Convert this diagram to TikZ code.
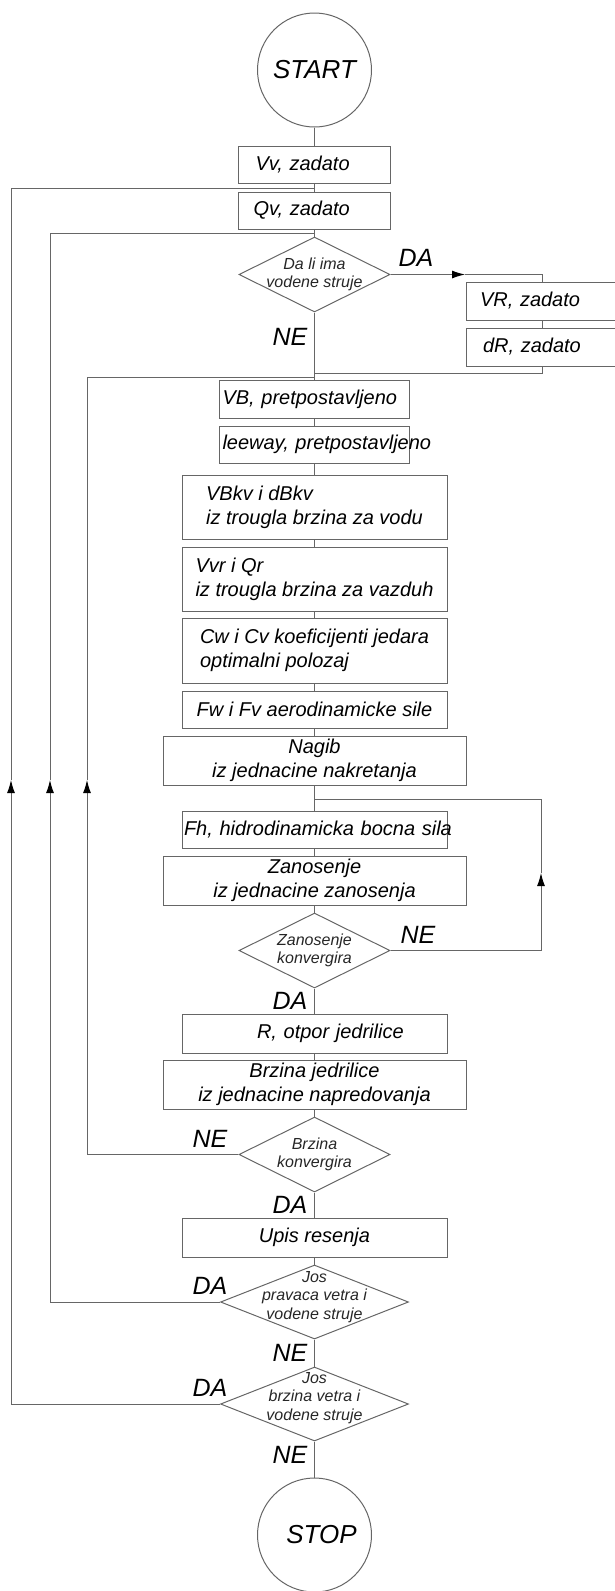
\documentclass[tikz,border=0pt]{standalone}
\usepackage{fontspec}
\setmainfont{Liberation Sans}
\usetikzlibrary{shapes.geometric,arrows.meta}

\begin{document}
\begin{tikzpicture}[x=1pt,y=-1pt,
        veza/.style={draw=black!60,line width=1pt},
        strelica/.style={veza,-{Latex[length=13pt,width=8pt,black]}},
        blok/.style={draw=black!60,line width=1pt,rectangle,align=left,inner xsep=2pt,inner ysep=0pt,
                     font=\fontsize{20}{24}\selectfont\itshape},
        odluka/.style={draw=black!60,line width=1pt,diamond,inner sep=0pt},
        upit/.style={align=center,inner sep=0pt,text=black!85,font=\fontsize{16}{18.5}\selectfont\itshape},
        krug/.style={draw=black!60,line width=1pt,circle,minimum size=114pt,inner sep=0pt,
                     font=\fontsize{26}{30}\selectfont\itshape},
        oznaka/.style={inner sep=0pt,font=\fontsize{25}{30}\selectfont\itshape}]

    \useasboundingbox (0,0) rectangle (615,1591);

    \node[krug] (start) at (314.5,70) {START};
    \node[blok,text width=118pt,inner xsep=17pt,minimum height=37pt] (vv) at (314.5,164.5) {Vv, zadato};
    \node[blok,text width=122pt,inner xsep=15pt,minimum height=37pt] (qv) at (314.5,210.5) {Qv, zadato};
    \node[odluka,minimum width=151pt,minimum height=75pt] (d1) at (314.5,274.5) {};
    \node[upit] (d1t) at (d1) {Da li ima\\vodene struje};
    \node[blok,text width=124pt,inner xsep=14pt,minimum height=38pt] (vr) at (542,301) {VR, zadato};
    \node[blok,text width=118pt,inner xsep=17pt,minimum height=38pt] (dr) at (542,347) {dR, zadato};
    \node[blok,text width=184pt,inner xsep=3pt,minimum height=38pt] (vb) at (314.5,399) {VB, pretpostavljeno};
    \node[blok,text width=184pt,inner xsep=3pt,minimum height=37pt] (lw) at (314.5,444.5) {\mbox{leeway, pretpostavljeno}};
    \node[blok,minimum width=265pt,minimum height=64pt] (vbkv) at (314.5,507) {VBkv i dBkv\\iz trougla brzina za vodu};
    \node[blok,minimum width=265pt,minimum height=64pt] (vvr) at (314.5,579) {Vvr i Qr\\iz trougla brzina za vazduh};
    \node[blok,minimum width=265pt,minimum height=65pt] (cw) at (314.5,650.5) {Cw i Cv koeficijenti jedara\\optimalni polozaj};
    \node[blok,minimum width=265pt,minimum height=37pt] (fw) at (314.5,709.5) {Fw i Fv aerodinamicke sile};
    \node[blok,align=center,minimum width=303pt,minimum height=49pt] (nagib) at (314.5,760.5) {Nagib\\iz jednacine nakretanja};
    \node[blok,text width=261pt,inner xsep=2pt,minimum height=37pt] (fh) at (314.5,829.5) {\mbox{Fh, hidrodinamicka bocna sila}};
    \node[blok,align=center,minimum width=303pt,minimum height=49pt] (zan) at (314.5,880.5) {Zanosenje\\iz jednacine zanosenja};
    \node[odluka,minimum width=151pt,minimum height=75pt] (d2) at (314.5,950.5) {};
    \node[upit] (d2t) at (d2) {Zanosenje\\konvergira};
    \node[blok,text width=225pt,inner xsep=20pt,minimum height=39pt] (r) at (314.5,1033.5) {\hspace*{55pt}R, otpor jedrilice};
    \node[blok,align=center,minimum width=303pt,minimum height=49pt] (brz) at (314.5,1084.5) {Brzina jedrilice\\iz jednacine napredovanja};
    \node[odluka,minimum width=151pt,minimum height=75pt] (d3) at (314.5,1154.5) {};
    \node[upit] (d3t) at (d3) {Brzina\\konvergira};
    \node[blok,align=center,minimum width=265pt,minimum height=39pt] (upis) at (314.5,1237.5) {Upis resenja};
    \node[odluka,minimum width=188pt,minimum height=74pt] (d4) at (314.5,1302) {};
    \node[upit] (d4t) at ([yshift=5pt]d4) {Jos\\pravaca vetra i\\vodene struje};
    \node[odluka,minimum width=188pt,minimum height=74pt] (d5) at (314.5,1404) {};
    \node[upit] (d5t) at ([yshift=6pt]d5) {Jos\\brzina vetra i\\vodene struje};
    \node[krug] (stop) at (314.5,1535) {\hspace*{14pt}STOP};

    \coordinate (sp0) at (314.5,188);
    \coordinate (sp2) at (314.5,233);
    \coordinate (dasv) at (465,274.5);
    \coordinate (dask) at (542,274.5);
    \coordinate (sp1) at (314.5,373);
    \coordinate (sp3) at (314.5,377);
    \coordinate (sp4) at (314.5,799);
    \coordinate (v1) at (11,780);
    \coordinate (v2) at (50,780);
    \coordinate (v3) at (87,780);
    \coordinate (v4) at (541,873);

    \draw[veza] (start) -- (vv) -- (qv) -- (d1) -- (vb) -- (lw) -- (vbkv) -- (vvr) -- (cw) -- (fw)
                -- (nagib) -- (fh) -- (zan) -- (d2) -- (r) -- (brz) -- (d3) -- (upis) -- (d4) -- (d5) -- (stop);

    \draw[strelica] (d1) -- (dasv);
    \draw[veza] (dasv) -- (dask) -- (vr);
    \draw[veza] (vr) -- (dr);
    \draw[veza] (dr) |- (sp1);

    \draw[strelica] (d2) -| (v4);
    \draw[veza] (v4) |- (sp4);

    \draw[strelica] (d3) -| (v3);
    \draw[veza] (v3) |- (sp3);
    \draw[strelica] (d4) -| (v2);
    \draw[veza] (v2) |- (sp2);
    \draw[strelica] (d5) -| (v1);
    \draw[veza] (v1) |- (sp0);

    \node[oznaka] (l1) at (416,258) {DA};
    \node[oznaka] (l2) at (290,337) {NE};
    \node[oznaka] (l3) at (418,935) {NE};
    \node[oznaka] (l4) at (290,1001) {DA};
    \node[oznaka] (l5) at (210,1139) {NE};
    \node[oznaka] (l6) at (290,1205) {DA};
    \node[oznaka] (l7) at (210,1286) {DA};
    \node[oznaka] (l8) at (290,1353) {NE};
    \node[oznaka] (l9) at (210,1388) {DA};
    \node[oznaka] (l10) at (290,1455) {NE};

\end{tikzpicture}
\end{document}
